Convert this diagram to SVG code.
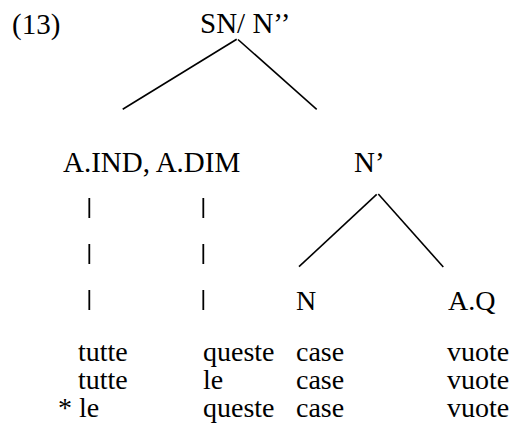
<svg xmlns="http://www.w3.org/2000/svg" width="517" height="432" viewBox="0 0 517 432">
<style>
.t{font-family:'Liberation Serif', serif;font-size:29px;fill:#000}
.s{font-size:28px}
.e{stroke:#000;stroke-width:1.6;fill:none}
.p{stroke:#000;stroke-width:1.8;fill:none}
</style>
<rect width="517" height="432" fill="#fff"/>
<g id="label13"><text class="t" x="12" y="34">(13)</text></g>
<g id="SN"><text class="t" x="200" y="33">SN/ N’’</text></g>
<g id="ADET"><text class="t" x="63" y="172">A.IND, A.DIM</text></g>
<g id="Nbar"><text class="t" x="354" y="172">N’</text></g>
<g id="N"><text class="t s" x="296" y="310">N</text></g>
<g id="AQ"><text class="t s" x="448" y="310">A.Q</text></g>
<g id="rows">
<text class="t s" x="78" y="361">tutte</text><text class="t s" x="203" y="361">queste</text><text class="t s" x="296" y="361">case</text><text class="t s" x="447" y="361">vuote</text>
<text class="t s" x="78" y="389">tutte</text><text class="t s" x="203" y="389">le</text><text class="t s" x="296" y="389">case</text><text class="t s" x="447" y="389">vuote</text>
<text class="t s" x="58" y="417">* le</text><text class="t s" x="203" y="417">queste</text><text class="t s" x="296" y="417">case</text><text class="t s" x="447" y="417">vuote</text>
</g>
<g id="connectors">
<line class="e" x1="236.7" y1="39.3" x2="122.7" y2="109.3"/>
<line class="e" x1="238" y1="39.5" x2="316.7" y2="109.3"/>
<line class="e" x1="376.7" y1="194.3" x2="299" y2="266.7"/>
<line class="e" x1="378.3" y1="194" x2="443.3" y2="267"/>
<line class="p" x1="89.3" y1="198" x2="89.3" y2="218"/>
<line class="p" x1="89.3" y1="244" x2="89.3" y2="264"/>
<line class="p" x1="89.3" y1="290" x2="89.3" y2="310"/>
<line class="p" x1="203.3" y1="198" x2="203.3" y2="218"/>
<line class="p" x1="203.3" y1="244" x2="203.3" y2="264"/>
<line class="p" x1="203.3" y1="290" x2="203.3" y2="310"/>
</g>
</svg>
